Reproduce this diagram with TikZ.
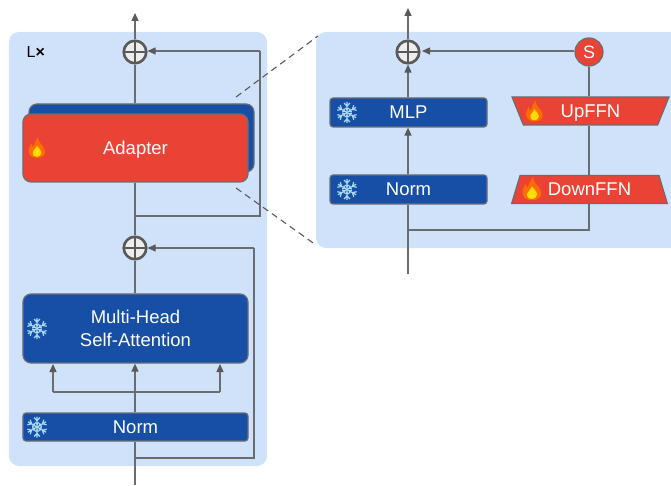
\documentclass[tikz,border=0pt]{standalone}
\usepackage{fontspec}
\setmainfont{Liberation Sans}
\usetikzlibrary{shapes.geometric,arrows.meta,calc}
\definecolor{panel}{HTML}{D0E2FA}
\definecolor{blk}{HTML}{174EA6}
\definecolor{redb}{HTML}{EA4335}
\definecolor{ln}{HTML}{6A6D70}
\definecolor{tip}{HTML}{595959}
\definecolor{ice}{HTML}{A8DAF5}
\tikzset{
  panelbox/.style={draw=none,fill=panel,rounded corners=10bp,inner sep=0pt},
  block/.style={draw=ln,line width=1.2bp,rounded corners=#1,inner sep=0pt,text=white,align=center,
    font=\fontsize{18.5bp}{23bp}\selectfont,text depth=-2bp},
  bluebox/.style={block=3bp,fill=blk},
  bluebig/.style={block=8bp,fill=blk},
  redbig/.style={block=8bp,fill=redb},
  trap/.style={draw=ln,line width=1.2bp,fill=redb,shape=trapezium,trapezium stretches=true,
    inner sep=0pt,minimum width=157bp,minimum height=28bp,trapezium angle=68.5,text=white,
    font=\fontsize{18.5bp}{23bp}\selectfont,text depth=0pt},
  plus/.style={circle,draw=tip,line width=2.6bp,fill=black!7,minimum size=22.5bp,inner sep=0pt,
    path picture={\draw[tip,line width=1.9bp]
      (path picture bounding box.north)--(path picture bounding box.south)
      (path picture bounding box.west)--(path picture bounding box.east);}},
  conn/.style={ln,line width=1.3bp},
  arr/.style={conn,-{Triangle[length=8bp,width=7bp,color=tip]}},
  gap/.style={dash pattern=on 6.5bp off 4.5bp,draw=tip,line width=1.1bp},
  snow/.pic={
    \foreach \a in {30,90,150,210,270,330}{
      \draw[ice,line width=1.2bp,rotate=\a] (0,0)--(10,0) (6,0)--(9,2.8) (6,0)--(9,-2.8) (2.5,0)--(4.3,1.8) (2.5,0)--(4.3,-1.8);
    }
  },
  flame/.pic={
    \fill[orange!85!red] (0,9) .. controls (-6,9) and (-8.5,5) .. (-7.5,1)
      .. controls (-7,-1) and (-6,-2) .. (-5.5,-4) .. controls (-4,-3) and (-4,-2) .. (-3.5,-1)
      .. controls (-2.5,-4) and (-1,-7) .. (1,-10) .. controls (1,-6) and (3,-4) .. (5,-2)
      .. controls (6,-0.5) and (8,2) .. (7.5,4) .. controls (7,7) and (4,9) .. (0,9) -- cycle;
    \fill[yellow!80!orange] (0,8) .. controls (-3,8) and (-4.5,6) .. (-3.8,3.5)
      .. controls (-3,1.5) and (-1,0.5) .. (0,-2) .. controls (1.5,0.5) and (4.2,2) .. (4,4.5)
      .. controls (3.8,6.8) and (2,8) .. (0,8) -- cycle;
  }
}
\begin{document}
\begin{tikzpicture}[x=1bp,y=-1bp]
\useasboundingbox (0,0) rectangle (671,486);
% panels
\node[panelbox,minimum width=258bp,minimum height=434bp] (leftpanel) at (138,249) {};
\fill[panel,rounded corners=10bp] (316,32) -- (690,32) -- (690,248) -- (316,248) -- cycle;
\coordinate (rightpanel) at (316,140);
\node[anchor=north west,inner sep=0pt,font=\fontsize{16bp}{18bp}\selectfont] (lx) at (26.5,46) {L\textbf{×}};
% left column
\node[plus] (sum1) at (135,52) {};
\node[plus] (sum2) at (135,248) {};
\coordinate (out1) at (135,13);
\node[bluebig,minimum width=225bp,minimum height=68bp] (backbox) at (141.5,138) {};
\node[redbig,minimum width=225bp,minimum height=68bp] (adapter) at (135.5,148) {Adapter};
\node[bluebig,minimum width=225bp,minimum height=69bp] (msa) at (135.5,328.5) {Multi-Head\\Self-Attention};
\node[bluebox,minimum width=225bp,minimum height=28bp] (norm1) at (135.5,427) {Norm};
\coordinate (in1) at (135,485);
\coordinate (split1) at (135,216);
\coordinate (loop1a) at (260,216);
\coordinate (loop1b) at (260,51);
\coordinate (res0) at (135,458);
\coordinate (res1) at (254,458);
\coordinate (res2) at (254,248);
\coordinate (fork) at (135,392);
\coordinate (forkl) at (53,392);
\coordinate (forkr) at (220,392);
\coordinate (tipl) at (53,364);
\coordinate (tipr) at (220,364);
\draw[arr] (sum1) -- (out1);
\draw[conn] (backbox.north -| sum1) -- (sum1);
\draw[conn] (adapter.south -| sum2) -- (sum2);
\draw[conn] (split1) -- (loop1a) -- (loop1b);
\draw[arr] (loop1b) -- (sum1.east |- loop1b);
\draw[conn] (msa.north -| sum2) -- (sum2);
\draw[arr] (norm1.north -| fork) -- (msa.south -| fork);
\draw[conn] (forkl) -- (forkr);
\draw[arr] (forkl) -- (tipl);
\draw[arr] (forkr) -- (tipr);
\draw[conn] (in1) -- (norm1.south -| in1);
\draw[conn] (res0) -- (res1) -- (res2);
\draw[arr] (res2) -- (sum2.east);
% zoom guides
\coordinate (ga) at (236,97);
\coordinate (gb) at (318,36);
\coordinate (gc) at (236,188);
\coordinate (gd) at (316,245);
\draw[gap] (ga) -- (gb);
\draw[gap] (gc) -- (gd);
% right column
\node[plus] (sum3) at (408,52) {};
\coordinate (out3) at (408,8);
\node[bluebox,minimum width=157bp,minimum height=29bp] (mlp) at (408.5,112.5) {MLP};
\node[bluebox,minimum width=157bp,minimum height=29bp] (norm2) at (408.5,189.5) {Norm};
\node[circle,draw=ln,line width=1.2bp,fill=redb,minimum size=28bp,inner sep=0pt,text=white,
  font=\fontsize{18bp}{20bp}\selectfont] (scale) at (589,52) {S};
\node[trap,shape border rotate=180] (up) at (590.5,111) {UpFFN};
\node[trap] (down) at (589.5,189.5) {DownFFN};
\coordinate (in3) at (408,274);
\coordinate (split3) at (408,230);
\coordinate (corner3) at (589,230);
\draw[arr] (sum3) -- (out3);
\draw[arr] (mlp.north -| sum3) -- (sum3.south);
\draw[arr] (norm2.north -| sum3) -- (mlp.south -| sum3);
\draw[conn] (in3) -- (norm2.south -| in3);
\draw[conn] (split3) -- (corner3) -- (down.south -| corner3);
\draw[conn] (down.north -| corner3) -- (up.south -| corner3);
\draw[conn] (up.north -| corner3) -- (scale.south);
\draw[arr] (scale.west |- 0,51) -- (422,51);
% icons
\pic[scale=1.05] at (37,328.5) {snow};
\pic[scale=1.05] at (37,427) {snow};
\pic[scale=1.05] at (347,112.5) {snow};
\pic[scale=1.05] at (347,189.5) {snow};
\pic[scale=1.1] at (37,148) {flame};
\pic[scale=1.1] at (534.5,111.5) {flame};
\pic[scale=1.25] at (532,189) {flame};
\end{tikzpicture}
\end{document}
